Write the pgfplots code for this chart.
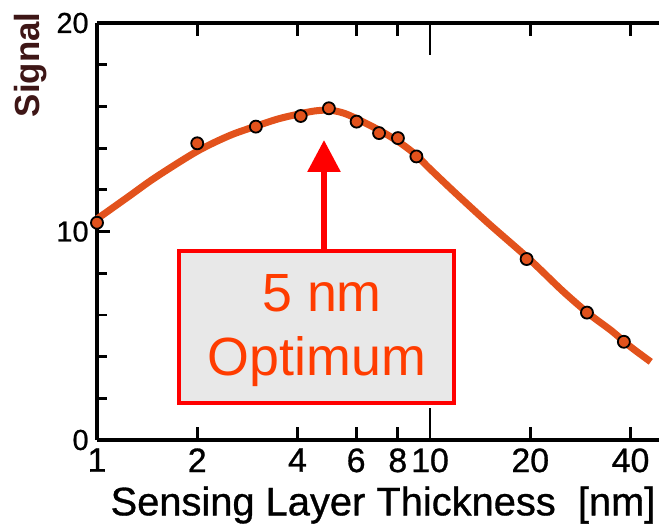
\documentclass[border=0pt]{standalone}
\usepackage{pgfplots}
\pgfplotsset{compat=1.18}
\usepackage{fontspec}
\setmainfont{Liberation Sans}
\newfontfamily\semib[FakeBold=0.8]{Liberation Sans}
\usetikzlibrary{arrows.meta}
\definecolor{curvecol}{RGB}{226,82,28}
\definecolor{optred}{RGB}{255,60,0}
\definecolor{sigbrown}{RGB}{62,22,22}
\definecolor{boxgray}{RGB}{232,232,232}
\begin{document}
\begin{tikzpicture}
\useasboundingbox (-48.5bp,-43.5bp) rectangle (281bp,220bp);
\begin{axis}[
  at={(0,0)}, anchor=south west,
  xmode=log, xmin=1, xmax=48.7, ymin=0, ymax=20,
  width=281bp, height=208.5bp, scale only axis,
  axis x line=box, axis y line=left,
  axis line style={-, line width=2.3bp, black},
  tick align=inside,
  tick style={black, line width=1.4bp},
  major tick length=6.5bp, minor tick length=5bp,
  xtick={1,2,4,6,8,20,40}, xticklabels={1,2,4,6,8,20,40},
  extra x ticks={10}, extra x tick labels={10},
  extra x tick style={major tick length=16bp},
  minor xtick={},
  ytick={0,10,20}, yticklabels={0\hspace{2.5bp},10,20},
  minor ytick={2,4,6,8,12,14,16,18},
  xticklabel style={font=\semib\fontsize{17}{17}\selectfont, inner sep=2bp, yshift=-2bp},
  yticklabel style={font=\semib\fontsize{14.5}{14.5}\selectfont, inner sep=4bp},
  xlabel={Sensing Layer Thickness\ \ [nm]},
  xlabel style={at={(axis description cs:0.509,-0.156)}, anchor=center, font=\semib\fontsize{20}{20}\selectfont},
  ylabel={Signal},
  ylabel style={at={(axis description cs:-0.119,0.9)}, anchor=center, font=\fontsize{17.5}{17.5}\selectfont\bfseries, text=sigbrown},
  clip=false,
]
\addplot[smooth, no markers, curvecol, line width=3.5bp] coordinates {
(1,10.6) (1.25,11.7) (1.5,12.6) (2,13.85) (2.5,14.6) (3,15.05) (3.5,15.4)
(4,15.62) (4.5,15.78) (5,15.82) (5.5,15.68) (6,15.42) (7,14.88) (8,14.33)
(9,13.72) (10,13.0) (12,11.8) (15,10.38) (20,8.63) (25,7.15) (30,6.05)
(35,5.25) (40,4.47) (46,3.75)
};
\addplot[only marks, mark=*, mark size=3bp, mark options={fill=curvecol, draw=black, line width=0.9bp}] coordinates {
(1,10.42) (2,14.23) (3,15.03) (4.09,15.54) (4.97,15.91) (6.02,15.27)
(7.03,14.72) (8.01,14.48) (9.1,13.6) (19.5,8.68) (29.6,6.11) (38.2,4.71)
};
\end{axis}
\draw[red, line width=1.75bp, fill=boxgray] (41bp,18.5bp) rectangle (178.5bp,94.5bp);
\draw[red, line width=3bp, -{Triangle[width=16bp,length=16bp]}] (113.5bp,94.5bp) -- (113.5bp,150bp);
\node[text=optred, font=\fontsize{27}{27}\selectfont] at (112.5bp,73.5bp) {5 nm};
\node[text=optred, font=\fontsize{27}{27}\selectfont] at (110bp,39bp) {Optimum};
\end{tikzpicture}
\end{document}
